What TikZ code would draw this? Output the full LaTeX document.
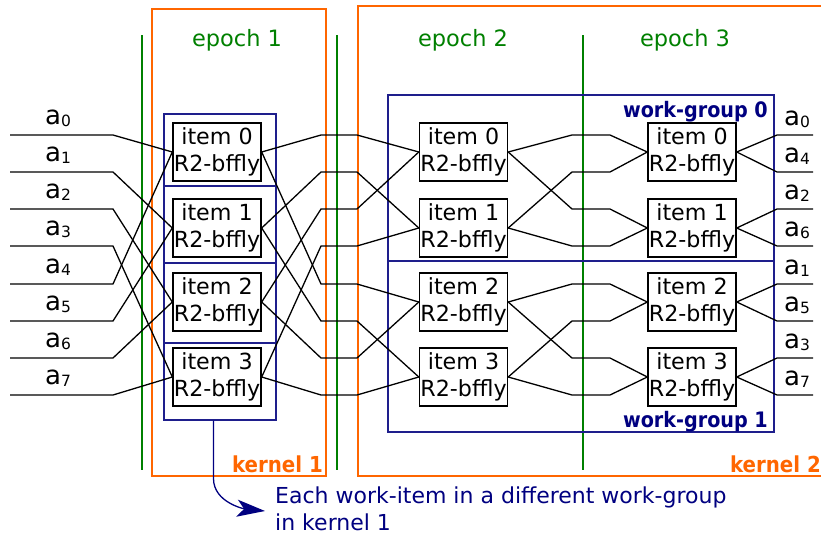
\documentclass[tikz,border=0pt]{standalone}
\usepackage{fontspec}
\setmainfont{DejaVu Sans}
\newfontfamily\condsans{DejaVu Sans Condensed}
\usetikzlibrary{arrows.meta}

\definecolor{epochgreen}{RGB}{0,128,0}
\definecolor{kernelorange}{RGB}{255,102,0}
\definecolor{groupblue}{RGB}{30,30,140}
\definecolor{notenavy}{RGB}{0,0,128}

\newcommand{\asub}[1]{a\raisebox{-2.5pt}{\fontsize{15.5}{15.5}\selectfont #1}}

\begin{document}
\begin{tikzpicture}[
  x=1pt, y=-1pt,
  item/.style={draw, fill=white, line width=1.4pt, minimum width=88pt, minimum height=58pt, inner sep=0pt, align=center, font=\fontsize{22.2}{27}\selectfont},
  group/.style={draw=groupblue, line width=1.2pt, minimum width=112pt, inner sep=0pt},
  wire/.style={line width=1.3pt},
  epochline/.style={draw=epochgreen, line width=1.3pt},
  kernelbox/.style={draw=kernelorange, line width=1.3pt},
  epochlab/.style={text=epochgreen, font=\fontsize{22.5}{22.5}\selectfont, anchor=base},
  kernellab/.style={text=kernelorange, font=\condsans\bfseries\fontsize{22}{22}\selectfont, anchor=base east, inner sep=0pt},
  grouplab/.style={text=notenavy, font=\condsans\bfseries\fontsize{21.3}{21.3}\selectfont, anchor=base east, inner sep=0pt},
  lab/.style={font=\fontsize{26}{26}\selectfont, anchor=base west, inner sep=0pt}
]
\useasboundingbox (0,0) rectangle (821,538);

% Kernels
\draw[kernelbox] (152,9) rectangle (326,476);
\draw[kernelbox] (821,6) -- (358,6) -- (358,476) -- (821,476);
\node[kernellab] (kern1) at (323,472) {kernel 1};
\node[kernellab] (kern2) at (821,472) {kernel 2};

% Epochs
\draw[epochline] (142,35) -- (142,470);
\draw[epochline] (337,35) -- (337,470);
\draw[epochline] (583,35) -- (583,470);
\node[epochlab] (ep1) at (237,46) {epoch 1};
\node[epochlab] (ep2) at (463,46) {epoch 2};
\node[epochlab] (ep3) at (685,46) {epoch 3};

% Work-groups
\node[group, minimum height=72pt] (kg0) at (220,150) {};
\node[group, minimum height=77pt] (kg1) at (220,224.5) {};
\node[group, minimum height=80pt] (kg2) at (220,303) {};
\node[group, minimum height=77pt] (kg3) at (220,381.5) {};
\node[group, minimum width=386pt, minimum height=166pt] (wg0) at (581,178) {};
\node[group, minimum width=386pt, minimum height=171pt] (wg1) at (581,346.5) {};
\node[grouplab] (wg0lab) at (768,117) {work-group 0};
\node[grouplab] (wg1lab) at (768,427) {work-group 1};

% Butterflies
\node[item] (k1i0) at (217,152) {item 0\\R2-bffly};
\node[item] (k1i1) at (217,228) {item 1\\R2-bffly};
\node[item] (k1i2) at (217,302) {item 2\\R2-bffly};
\node[item] (k1i3) at (217,377) {item 3\\R2-bffly};
\node[item] (e2i0) at (463.5,152) {item 0\\R2-bffly};
\node[item] (e2i1) at (463.5,228) {item 1\\R2-bffly};
\node[item] (e2i2) at (463.5,302) {item 2\\R2-bffly};
\node[item] (e2i3) at (463.5,377) {item 3\\R2-bffly};
\node[item] (e3i0) at (692,152) {item 0\\R2-bffly};
\node[item] (e3i1) at (692,228) {item 1\\R2-bffly};
\node[item] (e3i2) at (692,302) {item 2\\R2-bffly};
\node[item] (e3i3) at (692,377) {item 3\\R2-bffly};

% Inputs
\coordinate (in0) at (10,135); \coordinate (in1) at (10,172);
\coordinate (in2) at (10,209); \coordinate (in3) at (10,246);
\coordinate (in4) at (10,284); \coordinate (in5) at (10,321);
\coordinate (in6) at (10,358); \coordinate (in7) at (10,395);
\draw[wire] (in0) -- ++(103,0) -- (k1i0.west);
\draw[wire] (in1) -- ++(103,0) -- (k1i1.west);
\draw[wire] (in2) -- ++(103,0) -- (k1i2.west);
\draw[wire] (in3) -- ++(103,0) -- (k1i3.west);
\draw[wire] (in4) -- ++(103,0) -- (k1i0.west);
\draw[wire] (in5) -- ++(103,0) -- (k1i1.west);
\draw[wire] (in6) -- ++(103,0) -- (k1i2.west);
\draw[wire] (in7) -- ++(103,0) -- (k1i3.west);
\node[lab] (la0) at (45,124) {\asub{0}};
\node[lab] (la1) at (45,161) {\asub{1}};
\node[lab] (la2) at (45,198) {\asub{2}};
\node[lab] (la3) at (45,235) {\asub{3}};
\node[lab] (la4) at (45,273) {\asub{4}};
\node[lab] (la5) at (45,310) {\asub{5}};
\node[lab] (la6) at (45,347) {\asub{6}};
\node[lab] (la7) at (45,384) {\asub{7}};

% Kernel 1 -> epoch 2
\coordinate (m0) at (321,135); \coordinate (m1) at (321,172);
\coordinate (m2) at (321,209); \coordinate (m3) at (321,246);
\coordinate (m4) at (321,284); \coordinate (m5) at (321,321);
\coordinate (m6) at (321,358); \coordinate (m7) at (321,395);
\draw[wire] (k1i0.east) -- (m0) -- ++(36,0) -- (e2i0.west);
\draw[wire] (k1i1.east) -- (m1) -- ++(36,0) -- (e2i1.west);
\draw[wire] (k1i2.east) -- (m2) -- ++(36,0) -- (e2i0.west);
\draw[wire] (k1i3.east) -- (m3) -- ++(36,0) -- (e2i1.west);
\draw[wire] (k1i0.east) -- (m4) -- ++(36,0) -- (e2i2.west);
\draw[wire] (k1i1.east) -- (m5) -- ++(36,0) -- (e2i3.west);
\draw[wire] (k1i2.east) -- (m6) -- ++(36,0) -- (e2i2.west);
\draw[wire] (k1i3.east) -- (m7) -- ++(36,0) -- (e2i3.west);

% Epoch 2 -> epoch 3
\coordinate (n0) at (572,135); \coordinate (n1) at (572,172);
\coordinate (n2) at (572,209); \coordinate (n3) at (572,246);
\coordinate (n4) at (572,284); \coordinate (n5) at (572,321);
\coordinate (n6) at (572,358); \coordinate (n7) at (572,395);
\draw[wire] (e2i0.east) -- (n0) -- ++(38,0) -- (e3i0.west);
\draw[wire] (e2i1.east) -- (n1) -- ++(38,0) -- (e3i0.west);
\draw[wire] (e2i0.east) -- (n2) -- ++(38,0) -- (e3i1.west);
\draw[wire] (e2i1.east) -- (n3) -- ++(38,0) -- (e3i1.west);
\draw[wire] (e2i2.east) -- (n4) -- ++(38,0) -- (e3i2.west);
\draw[wire] (e2i3.east) -- (n5) -- ++(38,0) -- (e3i2.west);
\draw[wire] (e2i2.east) -- (n6) -- ++(38,0) -- (e3i3.west);
\draw[wire] (e2i3.east) -- (n7) -- ++(38,0) -- (e3i3.west);

% Outputs
\coordinate (out0) at (777,135); \coordinate (out1) at (777,172);
\coordinate (out2) at (777,209); \coordinate (out3) at (777,246);
\coordinate (out4) at (777,284); \coordinate (out5) at (777,321);
\coordinate (out6) at (777,358); \coordinate (out7) at (777,395);
\draw[wire] (e3i0.east) -- (out0) -- ++(36,0);
\draw[wire] (e3i0.east) -- (out1) -- ++(36,0);
\draw[wire] (e3i1.east) -- (out2) -- ++(36,0);
\draw[wire] (e3i1.east) -- (out3) -- ++(36,0);
\draw[wire] (e3i2.east) -- (out4) -- ++(36,0);
\draw[wire] (e3i2.east) -- (out5) -- ++(36,0);
\draw[wire] (e3i3.east) -- (out6) -- ++(36,0);
\draw[wire] (e3i3.east) -- (out7) -- ++(36,0);
\node[lab] (lb0) at (784,125) {\asub{0}};
\node[lab] (lb1) at (784,162) {\asub{4}};
\node[lab] (lb2) at (784,199) {\asub{2}};
\node[lab] (lb3) at (784,236) {\asub{6}};
\node[lab] (lb4) at (784,274) {\asub{1}};
\node[lab] (lb5) at (784,311) {\asub{5}};
\node[lab] (lb6) at (784,348) {\asub{3}};
\node[lab] (lb7) at (784,385) {\asub{7}};

% Note
\node[anchor=west, align=left, inner sep=0pt, text=notenavy, font=\fontsize{22}{27}\selectfont] (note) at (275,509) {Each work-item in a different work-group\\in kernel 1};
\draw[draw=notenavy, line width=1.3pt, -{Stealth[length=28pt, width=17pt, inset=7pt]}] ([xshift=-6.5pt]kg3.south) -- ++(0,58) .. controls +(0,24) and +(-20,-2) .. ([xshift=-10pt, yshift=-2pt]note.west);
\end{tikzpicture}
\end{document}
